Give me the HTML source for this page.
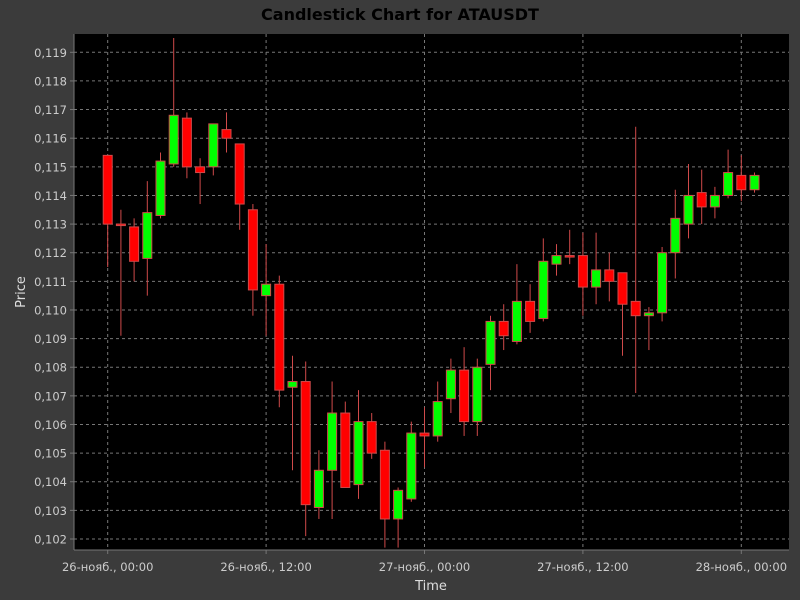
<!DOCTYPE html>
<html><head><meta charset="utf-8">
<style>
body{margin:0;background:#3b3b3b;}
svg{display:block;font-family:"DejaVu Sans","Liberation Sans",sans-serif;}
</style></head>
<body>
<svg id="chart" width="800" height="600">
<rect x="0" y="0" width="800" height="600" fill="#3b3b3b"/>
<text x="400" y="20" text-anchor="middle" font-size="16" font-weight="bold" fill="#000">Candlestick Chart for ATAUSDT</text>
<rect x="74" y="34" width="715" height="516" fill="#000"/>
<g id="grid"></g>
<g id="yticks"></g>
<g id="xticks"></g>
<g id="candles"></g>
<line x1="74" y1="34" x2="74" y2="550" stroke="#777"/>
<line x1="74" y1="550" x2="789" y2="550" stroke="#777"/>
<text x="25" y="292" text-anchor="middle" font-size="13" fill="#ddd" transform="rotate(-90 25 292)">Price</text>
<text x="431" y="590" text-anchor="middle" font-size="13" fill="#ddd">Time</text>
</svg>
<script>
const opens  = [.1154,.1130,.1129,.1118,.1133,.1151,.1167,.1150,.1150,.1163,.1158,.1135,.1105,.1109,.1073,.1075,.1031,.1044,.1064,.1039,.1061,.1051,.1027,.1034,.1057,.1056,.1069,.1079,.1061,.1081,.1096,.1089,.1103,.1097,.1116,.1119,.1119,.1108,.1114,.1113,.1103,.1098,.1099,.1120,.1130,.1141,.1136,.1140,.1147,.1142];
const closes = [.1130,.1130,.1117,.1134,.1152,.1168,.1150,.1148,.1165,.1160,.1137,.1107,.1109,.1072,.1075,.1032,.1044,.1064,.1038,.1061,.1050,.1027,.1037,.1057,.1056,.1068,.1079,.1061,.1080,.1096,.1091,.1103,.1096,.1117,.1119,.1119,.1108,.1114,.1110,.1102,.1098,.1099,.1120,.1132,.1140,.1136,.1140,.1148,.1142,.1147];
const highs  = [.1154,.1135,.1132,.1145,.1155,.1195,.1169,.1153,.1165,.1169,.1158,.1137,.1123,.1112,.1084,.1082,.1051,.1075,.1068,.1072,.1064,.1054,.1038,.1061,.1066,.1075,.1083,.1087,.1083,.1098,.1102,.1116,.1109,.1125,.1123,.1128,.1127,.1127,.1120,.1113,.1164,.1101,.1122,.1142,.1151,.1149,.1143,.1156,.1154,.1148];
const lows   = [.1115,.1091,.1110,.1105,.1132,.1150,.1146,.1137,.1147,.1155,.1128,.1098,.1091,.1066,.1044,.1021,.1027,.1027,.1038,.1034,.1048,.1017,.1017,.1033,.1045,.1054,.1064,.1056,.1056,.1072,.1086,.1088,.1092,.1096,.1112,.1116,.1098,.1102,.1103,.1084,.1071,.1086,.1096,.1111,.1125,.1130,.1132,.1139,.1138,.1141];
const yTickValues = [.102,.103,.104,.105,.106,.107,.108,.109,.110,.111,.112,.113,.114,.115,.116,.117,.118,.119];
const xTickHours = [0,12,24,36,48];
const xTickLabels = ["26-нояб., 00:00","26-нояб., 12:00","27-нояб., 00:00","27-нояб., 12:00","28-нояб., 00:00"];

const NS="http://www.w3.org/2000/svg";
function xScale(h){return 107.7 + h*13.2;}
function yScale(v){return 52.3 + (0.119 - v)/0.017*(539-52.3);}
function mk(tag,attrs,parent){const e=document.createElementNS(NS,tag);for(const k in attrs)e.setAttribute(k,attrs[k]);parent.appendChild(e);return e;}
const grid=document.getElementById('grid'),yt=document.getElementById('yticks'),xt=document.getElementById('xticks'),cg=document.getElementById('candles');
yTickValues.forEach(v=>{
  const y=yScale(v);
  const g=mk('line',{x1:74,x2:789,y1:y,y2:y,stroke:'#777','stroke-dasharray':'3,3','stroke-width':1},grid);
  
  
  const t=mk('text',{x:67,y:y+4.5,'text-anchor':'end','font-size':11.5,fill:'#ccc'},yt);
  t.textContent=v.toFixed(3).replace('.',',');
  
  
  const tk=mk('line',{x1:70,x2:74,y1:y,y2:y,stroke:'#777'},yt);
  
  
});
xTickHours.forEach((h,i)=>{
  const x=xScale(h);
  const g=mk('line',{x1:x,x2:x,y1:34,y2:550,stroke:'#777','stroke-dasharray':'3,3','stroke-width':1},grid);
  
  
  const t=mk('text',{x:x,y:571,'text-anchor':'middle','font-size':11.5,fill:'#ccc'},xt);
  t.textContent=xTickLabels[i];
  
  
  const tk=mk('line',{x1:x,x2:x,y1:550,y2:554,stroke:'#777'},xt);
  
  
});
opens.forEach((o,i)=>{
  const c=closes[i],x=xScale(i),up=c>o;
  const w=mk('line',{x1:x,x2:x,y1:yScale(highs[i]),y2:yScale(lows[i]),stroke:'#d04a4a','stroke-width':1},cg);
  
  
  const top=yScale(Math.max(o,c)),bot=yScale(Math.min(o,c));
  const b=mk('rect',{x:x-4.5,y:top,width:9,height:Math.max(bot-top,1.5),fill:up?'#00ff00':'#ff0000',stroke:'#d04a4a','stroke-width':1},cg);
  
  
});
</script>
</body></html>
